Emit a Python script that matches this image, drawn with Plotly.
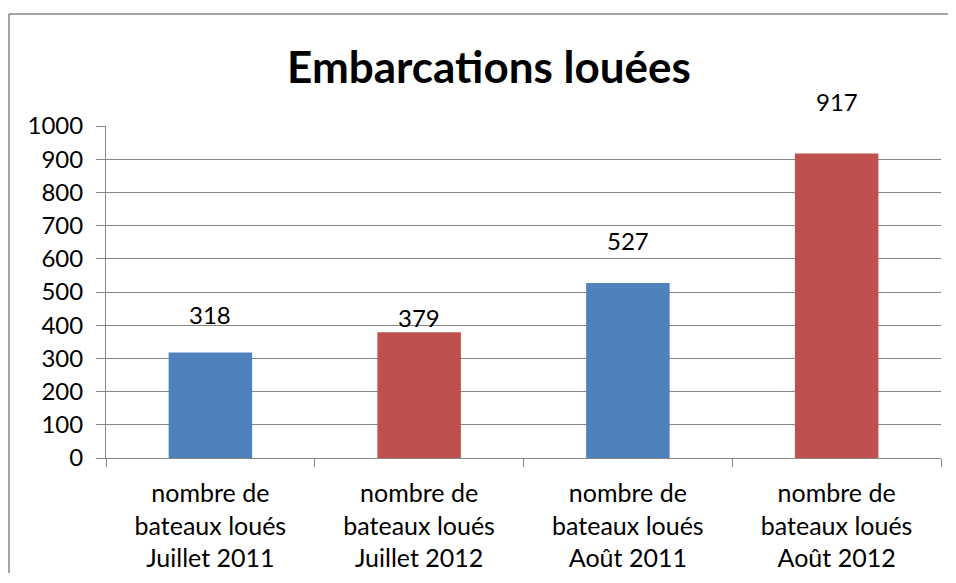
import plotly.graph_objects as go

categories = ['nombre de<br>bateaux loués<br>Juillet 2011',
              'nombre de<br>bateaux loués<br>Juillet 2012',
              'nombre de<br>bateaux loués<br>Août 2011',
              'nombre de<br>bateaux loués<br>Août 2012']
values = [318, 379, 527, 917]
bar_colors = ['#4F81BD', '#C0504D', '#4F81BD', '#C0504D']
label_shift = [38, 15, 43, 52]

font = 'Lato'
grid = '#868686'

fig = go.Figure()
fig.add_trace(go.Bar(x=categories, y=values,
                     marker=dict(color=bar_colors, line=dict(width=0)),
                     hoverinfo='x+y'))

# data labels sit a bit above each bar, like in the excel chart
for cat, val, sh in zip(categories, values, label_shift):
    fig.add_annotation(x=cat, y=val, text=str(val), showarrow=False,
                       yanchor='middle', yshift=sh,
                       font=dict(family=font, size=24, color='black'))

# chart frame: only the left and top edges show in the picture
frame = dict(color='#878787', width=1.5)
fig.add_shape(type='line', xref='paper', yref='paper',
              x0=-0.1162, x1=-0.1162, y0=-0.6, y1=1.337, line=frame, layer='below')
fig.add_shape(type='line', xref='paper', yref='paper',
              x0=-0.1162, x1=1.5, y0=1.337, y1=1.337, line=frame, layer='below')

# page has an 8px body margin, so keep the figure inside the window
fig.update_layout(
    width=940, height=565,
    margin=dict(l=98, r=7, t=118, b=115),
    paper_bgcolor='white', plot_bgcolor='white',
    bargap=0.6,
    showlegend=False,
    title=dict(text='<b>Embarcations louées</b>', xref='container',
               x=481 / 940, xanchor='center', y=1 - 60 / 565, yanchor='middle',
               font=dict(family=font, size=44, color='black')),
    font=dict(family=font, size=24, color='black'),
)
fig.update_yaxes(range=[0, 1000], dtick=100, showgrid=True, gridcolor=grid,
                 gridwidth=1, showline=True, linecolor=grid, linewidth=1,
                 ticks='outside', ticklen=9, tickcolor=grid,
                 ticklabelstandoff=8, zeroline=False, automargin=False,
                 tickfont=dict(family=font, size=24, color='black'))
fig.update_xaxes(showline=True, linecolor=grid, linewidth=1,
                 ticks='outside', ticklen=8, tickcolor=grid,
                 tickson='boundaries', showgrid=False, ticklabelstandoff=13,
                 automargin=False,
                 tickfont=dict(family=font, size=25, color='black'))

fig.write_html('out.html')
